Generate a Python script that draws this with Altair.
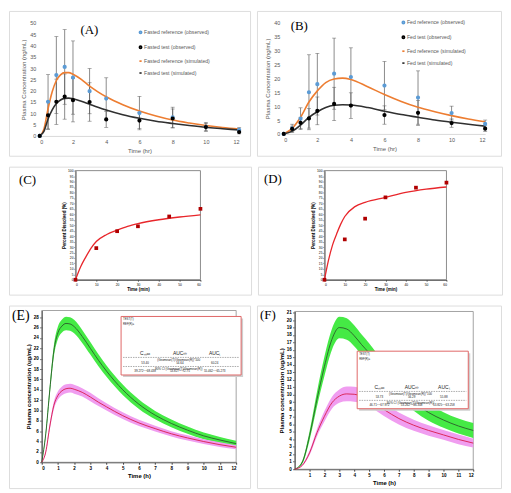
import altair as alt
import pandas as pd

# ---------------- (A) fasted ----------------
A_t = [0, 0.5, 1, 1.5, 2, 3, 4, 6, 8, 10, 12]
A_ref_obs = [0, 15.1, 26.9, 30.5, 25.8, 19.8, 16.5, 10.1, 8.2, 4.0, 2.7]
A_ref_err = [0, 12.0, 17.0, 16.5, 16.2, 10.0, 9.2, 7.4, 4.5, 2.0, 1.0]
A_test_obs = [0, 9.1, 15.1, 17.4, 15.8, 15.0, 7.3, 6.8, 7.7, 3.9, 1.7]
A_test_err = [0, 6.2, 10.0, 10.0, 9.6, 8.5, 3.5, 3.6, 4.2, 1.6, 0.8]
A_sim_t = [0, 0.25, 0.5, 0.75, 1, 1.25, 1.5, 1.75, 2, 2.5, 3, 3.5, 4, 5, 6, 7, 8, 9, 10, 11, 12]
A_ref_sim = [0, 3, 12, 19.5, 24.5, 27, 28, 28, 27.3, 25, 22, 19.5, 17.3, 13.8, 11, 8.8, 7, 5.7, 4.6, 3.7, 3.0]
A_test_sim = [0, 2, 7.5, 11.5, 14.3, 15.9, 16.6, 16.7, 16.4, 15.3, 14, 12.7, 11.5, 9.4, 7.8, 6.5, 5.5, 4.6, 3.8, 3.2, 2.6]
A_names = ["Fasted reference (observed)", "Fasted test (observed)",
           "Fasted reference (simulated)", "Fasted test (simulated)"]

# ---------------- (B) fed ----------------
B_t = [0, 0.5, 1, 1.5, 2, 3, 4, 6, 8, 10, 12]
B_ref_obs = [0, 2.0, 5.5, 15.0, 17.9, 21.7, 20.5, 17.4, 13.1, 7.5, 3.6]
B_ref_err = [0, 1.5, 3.9, 13.5, 11.1, 12.8, 10.5, 8.7, 9.6, 2.5, 1.4]
B_test_obs = [0, 1.8, 4.0, 5.6, 8.3, 10.8, 10.2, 6.8, 7.6, 3.9, 1.9]
B_test_err = [0, 1.0, 2.0, 3.5, 5.0, 6.0, 4.6, 3.3, 4.5, 1.5, 1.0]
B_sim_t = [0, 0.5, 1, 1.5, 2, 2.5, 3, 3.5, 4, 5, 6, 7, 8, 9, 10, 11, 12]
B_ref_sim = [0, 2, 6, 11.5, 15.5, 18.5, 19.8, 20.1, 19.6, 17, 14.2, 11.7, 9.6, 8, 6.6, 5.4, 4.4]
B_test_sim = [0, 1, 3.2, 6, 8, 9.5, 10.3, 10.5, 10.4, 9.5, 8.2, 7, 6, 5, 4.2, 3.5, 2.8]
B_names = ["Fed reference (observed)", "Fed test (observed)",
           "Fed reference (simulated)", "Fed test (simulated)"]

# ---------------- (C), (D) dissolution ----------------
CD_t = [0, 10, 20, 30, 45, 60]
C_obs = [0, 29, 44.5, 49, 58, 65]
C_fit_t = [0, 2.5, 5, 7.5, 10, 15, 20, 25, 30, 40, 50, 60]
C_fit = [0, 12, 21, 29, 35, 41.5, 45.5, 49, 51.5, 55, 57.5, 59.5]
D_obs = [0, 37, 56, 75.5, 84.4, 89]
D_fit_t = [0, 2, 4, 6, 8, 10, 15, 20, 30, 40, 50, 60]
D_fit = [0, 18, 32, 42, 51, 58, 67, 71, 75.5, 80, 83, 85]

# ---------------- (E), (F) simulated bands ----------------
E_t = [0, 0.25, 0.5, 0.75, 1, 1.25, 1.5, 1.75, 2, 2.5, 3, 3.5, 4, 5, 6, 7, 8, 9, 10, 11, 12]
E_ref = [0, 5.5, 14, 21.5, 25, 26.3, 26.8, 26.7, 26.2, 24.3, 22.0, 19.7, 17.6, 14.0, 11.2, 9.1, 7.5, 6.2, 5.1, 4.3, 3.6]
E_ref_hw = [0, 0.5, 0.9, 1.1, 1.2, 1.25, 1.3, 1.3, 1.3, 1.25, 1.2, 1.15, 1.1, 1.0, 0.9, 0.8, 0.75, 0.7, 0.65, 0.6, 0.55]
E_test = [0, 2, 7, 11, 12.9, 13.8, 14.2, 14.3, 14.1, 13.5, 12.6, 11.6, 10.7, 9.0, 7.6, 6.5, 5.5, 4.7, 4.0, 3.4, 2.9]
E_test_hw = [0, 0.3, 0.6, 0.75, 0.8, 0.85, 0.85, 0.85, 0.85, 0.8, 0.8, 0.75, 0.7, 0.65, 0.6, 0.55, 0.5, 0.5, 0.45, 0.45, 0.4]
F_t = [0, 0.5, 1, 1.5, 2, 2.5, 3, 3.5, 4, 4.5, 5, 6, 7, 8, 9, 10, 11, 12]
F_ref = [0, 0.9, 4.5, 9.4, 13.8, 17.4, 19.0, 18.8, 17.9, 16.7, 15.6, 13, 10.8, 9.0, 7.6, 6.6, 5.8, 5.2]
F_ref_hw = [0, 0.2, 0.6, 1.0, 1.3, 1.4, 1.45, 1.45, 1.4, 1.35, 1.3, 1.25, 1.2, 1.15, 1.1, 1.05, 1.0, 1.0]
F_test = [0, 0.5, 2.2, 4.9, 7.1, 8.9, 9.8, 10.1, 10.05, 9.8, 9.3, 8.0, 6.8, 5.9, 5.2, 4.6, 4.0, 3.5]
F_test_hw = [0, 0.1, 0.3, 0.5, 0.7, 0.8, 0.9, 1.0, 1.0, 0.95, 0.9, 0.85, 0.8, 0.75, 0.7, 0.65, 0.65, 0.6]

# inset tables
TBL_rows = ["TEST(T)", "REF(R)="]
TBL_hdr = ["C\u2098\u2090\u2093", "AUC\u221e", "AUC\u209c"]
TBL_ratio = "(Geomean(T)/Geomean(R))*100"
TBL_ci = "90% CI (Geomean(T)/Geomean(R))"
E_vals = ["53.40", "54.64", "60.24"]
E_cis = ["39.272~~68.438", "53.827~~72.75", "55.462~~65.273"]
F_vals = ["53.73", "56.29", "55.88"]
F_cis = ["46.71~~67.972", "53.262~~66.308", "53.825~~63.258"]

FONT = "Liberation Sans"
SERIF = "Liberation Serif"
ONE = alt.Data(values=[{"k": 0}])
FRAME_C = "#bdbdbd"
IND = dict(color="independent", shape="independent", size="independent")


def tag(s, x, y, size=13):
    return alt.Chart(ONE).mark_text(text=s, font=SERIF, fontSize=size, align="left",
                                    baseline="middle", color="#000").encode(
        x=alt.value(x), y=alt.value(y))


def txt(s, x, y, size=3, align="center"):
    return alt.Chart(ONE).mark_text(text=s, font=FONT, fontSize=size, align=align,
                                    baseline="middle", color="#222").encode(
        x=alt.value(x), y=alt.value(y))


def box(x0, x1, y0, y1, color="#8c8c8c", w=1.0):
    return alt.Chart(ONE).mark_rect(fillOpacity=0, stroke=color, strokeWidth=w).encode(
        x=alt.value(x0), x2=alt.value(x1), y=alt.value(y0), y2=alt.value(y1))


def pk_panel(t, ro, re, to, te, st, rs, ts, names, ymax, Wf, Hf, pr, tg, tgxy, legxy):
    x0, x1, y0, y1 = pr
    obs = pd.DataFrame({"t": t + t, "v": ro + to, "e": re + te,
                        "s": [names[0]] * len(t) + [names[1]] * len(t)})
    sim = pd.DataFrame({"t": st + st, "v": rs + ts,
                        "s": [names[2]] * len(st) + [names[3]] * len(st)})
    xs = alt.Scale(domain=[0, 12], range=[x0, x1], nice=False)
    ys = alt.Scale(domain=[0, ymax], range=[y1, y0], nice=False)
    xax = alt.Axis(values=list(range(0, 13, 2)), title="Time (hr)", grid=False, ticks=False,
                   domainColor="#d9d9d9", labelFontSize=5.5, labelColor="#595959",
                   titleFontSize=6, titleColor="#595959", titleFontWeight="normal",
                   labelPadding=4, titlePadding=2, labelFont=FONT, titleFont=FONT,
                   offset=-(Hf - y1))
    yax = alt.Axis(values=list(range(0, ymax + 1, 5)), title="Plasma Concentration (ng/mL)",
                   grid=False, ticks=False, domain=False, labelFontSize=5.5,
                   labelColor="#595959", titleFontSize=6, titleColor="#595959",
                   titleFontWeight="normal", labelPadding=4, titlePadding=3,
                   labelFont=FONT, titleFont=FONT, offset=-x0)
    X = alt.X("t:Q", scale=xs, axis=xax)
    cscale = alt.Scale(domain=names, range=["#5B9BD5", "#000000", "#ED7D31", "#303030"])
    sscale = alt.Scale(domain=names, range=["circle", "circle", "stroke", "stroke"])
    zscale = alt.Scale(domain=names, range=[5, 5, 220, 220])
    leg = alt.Legend(title=None, orient="none", legendX=legxy[0], legendY=legxy[1],
                     labelFontSize=5.2, labelColor="#595959", labelFont=FONT,
                     rowPadding=5, labelOffset=1, symbolStrokeWidth=1.7)
    base = alt.Chart(obs).transform_filter("datum.e > 0").transform_calculate(
        lo="datum.v - datum.e", hi="datum.v + datum.e")
    bars = base.mark_rule(color="#595959", strokeWidth=0.7).encode(
        x=X, y=alt.Y("lo:Q", scale=ys, axis=yax), y2="hi:Q")
    cap1 = base.mark_tick(color="#595959", orient="horizontal", size=4, thickness=0.7).encode(
        x=X, y=alt.Y("lo:Q", scale=ys, axis=yax))
    cap2 = base.mark_tick(color="#595959", orient="horizontal", size=4, thickness=0.7).encode(
        x=X, y=alt.Y("hi:Q", scale=ys, axis=yax))
    lines = alt.Chart(sim).mark_line(interpolate="monotone", strokeWidth=1.6).encode(
        x=X, y=alt.Y("v:Q", scale=ys, axis=yax),
        color=alt.Color("s:N", scale=cscale, legend=leg))
    pts = alt.Chart(obs).mark_point(filled=False, strokeWidth=2, opacity=1).encode(
        x=X, y=alt.Y("v:Q", scale=ys, axis=yax),
        color=alt.Color("s:N", scale=cscale, legend=leg),
        shape=alt.Shape("s:N", scale=sscale, legend=leg),
        size=alt.Size("s:N", scale=zscale, legend=leg))
    return alt.layer(bars, cap1, cap2, lines, pts,
                     tag(tg, tgxy[0], tgxy[1])).properties(width=Wf, height=Hf)


def diss_panel(t, obs, ft, fit, Wf, Hf, pr, tg, tgxy):
    x0, x1, y0, y1 = pr
    d1 = pd.DataFrame({"t": t, "v": obs})
    d2 = pd.DataFrame({"t": ft, "v": fit})
    xs = alt.Scale(domain=[0, 60], range=[x0, x1], nice=False)
    ys = alt.Scale(domain=[0, 100], range=[y1, y0], nice=False)
    common = dict(grid=False, labelFontSize=3.3, titleFontSize=4.5, titleFontWeight="bold",
                  tickSize=1.5, domainColor="#000", tickColor="#000", labelColor="#000",
                  titleColor="#000", labelPadding=1, titlePadding=1.5, labelFont=FONT,
                  titleFont=FONT, domainWidth=0.8, tickWidth=0.6)
    X = alt.X("t:Q", scale=xs, axis=alt.Axis(values=list(range(0, 61, 10)), title="Time (min)",
                                             offset=-(Hf - y1), **common))
    Y = alt.Y("v:Q", scale=ys, axis=alt.Axis(values=list(range(0, 101, 5)),
                                             title="Percent Dissolved (%)", offset=-x0, **common))
    curve = alt.Chart(d2).mark_line(interpolate="monotone", color="#e8262b", strokeWidth=1.3).encode(x=X, y=Y)
    pts = alt.Chart(d1).mark_square(size=14, color="#b00000", opacity=1).encode(x=X, y=Y)
    return alt.layer(box(x0, x1, y0, y1, "#8c8c8c", 1.0), curve, pts,
                     tag(tg, tgxy[0], tgxy[1])).properties(width=Wf, height=Hf)


def table(bx, by, bw, bh, vals, cis):
    parts = [
        alt.Chart(ONE).mark_rect(fill="#cfcfcf").encode(
            x=alt.value(bx + 2), x2=alt.value(bx + bw + 2), y=alt.value(by + 2), y2=alt.value(by + bh + 2)),
        alt.Chart(ONE).mark_rect(fill="white", stroke="#e06666", strokeWidth=1).encode(
            x=alt.value(bx), x2=alt.value(bx + bw), y=alt.value(by), y2=alt.value(by + bh)),
        txt(TBL_rows[0], bx + 2, by + 3, 2.8, "left"),
        txt(TBL_rows[1], bx + 2, by + 8, 2.8, "left"),
    ]
    cx = [bx + 0.2 * bw, bx + 0.49 * bw, bx + 0.78 * bw]
    for i in range(3):
        parts.append(txt(TBL_hdr[i], cx[i], by + 0.63 * bh, 5))
        parts.append(txt(vals[i], cx[i], by + 0.79 * bh, 3))
        parts.append(txt(cis[i], cx[i], by + 0.94 * bh, 3))
    for fy in (0.70, 0.855):
        parts.append(alt.Chart(ONE).mark_rule(color="#555", strokeWidth=0.5, strokeDash=[1.5, 1]).encode(
            x=alt.value(bx + 2), x2=alt.value(bx + bw - 2), y=alt.value(by + fy * bh)))
    parts.append(txt(TBL_ratio, bx + 0.48 * bw, by + 0.745 * bh, 3))
    parts.append(txt(TBL_ci, bx + 0.48 * bw, by + 0.895 * bh, 3))
    return parts


def sim_panel(t, r, rh, s, sh, ydom, yvals, xvals, Wf, Hf, pr, tg, tgxy, tgsize, tbl):
    x0, x1, y0, y1 = pr
    df = pd.DataFrame({"t": t, "r": r, "rh": rh, "s": s, "sh": sh})
    df = df.assign(rlo=df.r - df.rh, rhi=df.r + df.rh, slo=df.s - df.sh, shi=df.s + df.sh)
    xs = alt.Scale(domain=[0, 12], range=[x0, x1], nice=False)
    ys = alt.Scale(domain=[0, ydom], range=[y1, y0], nice=False)
    common = dict(grid=False, labelFontSize=4.6, labelFontWeight="bold", titleFontSize=6,
                  titleFontWeight="bold", tickSize=2, domainColor="#000", tickColor="#000",
                  labelColor="#000", titleColor="#000", labelPadding=1.5, titlePadding=2,
                  labelFont=FONT, titleFont=FONT, domainWidth=0.8, tickWidth=0.7)
    X = alt.X("t:Q", scale=xs, axis=alt.Axis(values=xvals, title="Time (h)",
                                             offset=-(Hf - y1), **common))
    yax = alt.Axis(values=yvals, title="Plasma concentration (ug/mL)", offset=-x0, **common)
    base = alt.Chart(df)
    gband = base.mark_area(interpolate="monotone", color="#45ea45", opacity=1).encode(
        x=X, y=alt.Y("rlo:Q", scale=ys, axis=yax), y2="rhi:Q")
    pband = base.mark_area(interpolate="monotone", color="#f09df0", opacity=1).encode(
        x=X, y=alt.Y("slo:Q", scale=ys, axis=yax), y2="shi:Q")
    gline = base.mark_line(interpolate="monotone", color="#2c5a2c", strokeWidth=0.9).encode(
        x=X, y=alt.Y("r:Q", scale=ys, axis=yax))
    pline = base.mark_line(interpolate="monotone", color="#d81b4a", strokeWidth=0.9).encode(
        x=X, y=alt.Y("s:Q", scale=ys, axis=yax))
    return alt.layer(box(x0, x1, y0, y1, "#8c8c8c", 0.8), gband, pband, gline, pline, *tbl,
                     tag(tg, tgxy[0], tgxy[1], tgsize)).properties(width=Wf, height=Hf)


# frame sizes (Wf, Hf) and plot rectangles (x0, x1, y_top, y_bottom) inside each frame
pA = pk_panel(A_t, A_ref_obs, A_ref_err, A_test_obs, A_test_err, A_sim_t, A_ref_sim, A_test_sim,
              A_names, 50, 243, 146, (31, 232, 12, 126), "(A)", (72, 19), (130, 19))
pB = pk_panel(B_t, B_ref_obs, B_ref_err, B_test_obs, B_test_err, B_sim_t, B_ref_sim, B_test_sim,
              B_names, 40, 246, 146, (27, 230, 12, 124), "(B)", (34, 15), (145, 9))
pC = diss_panel(CD_t, C_obs, C_fit_t, C_fit, 244, 129, (67, 193, 4, 114), "(C)", (10, 13))
pD = diss_panel(CD_t, D_obs, D_fit_t, D_fit, 246, 129, (67, 190, 4, 114), "(D)", (6, 12))
pE = sim_panel(E_t, E_ref, E_ref_hw, E_test, E_test_hw, 29.3, list(range(0, 29, 2)),
               list(range(0, 13)), 243, 184, (33, 229, 5, 158), "(E)", (3, 11), 14,
               table(113, 11, 121, 59, E_vals, E_cis))
pF = sim_panel(F_t, F_ref, F_ref_hw, F_test, F_test_hw, 21.15, list(range(0, 22)),
               list(range(1, 13)), 246, 184, (38, 218, 6, 165), "(F)", (3, 10), 13,
               table(101, 46, 112, 58, F_vals, F_cis))

row1 = alt.hconcat(pA, pB, spacing=5).resolve_scale(**IND).resolve_legend(**IND)
row2 = alt.hconcat(pC, pD, spacing=5)
row3 = alt.hconcat(pE, pF, spacing=5)

chart = alt.vconcat(row1, row2, row3, spacing=9).resolve_scale(**IND).resolve_legend(**IND).properties(
    padding=0, background="white").configure_view(stroke=FRAME_C, strokeWidth=1.5).configure(font=FONT)

chart.save("out.html", embed_options={"renderer": "svg", "actions": False})
